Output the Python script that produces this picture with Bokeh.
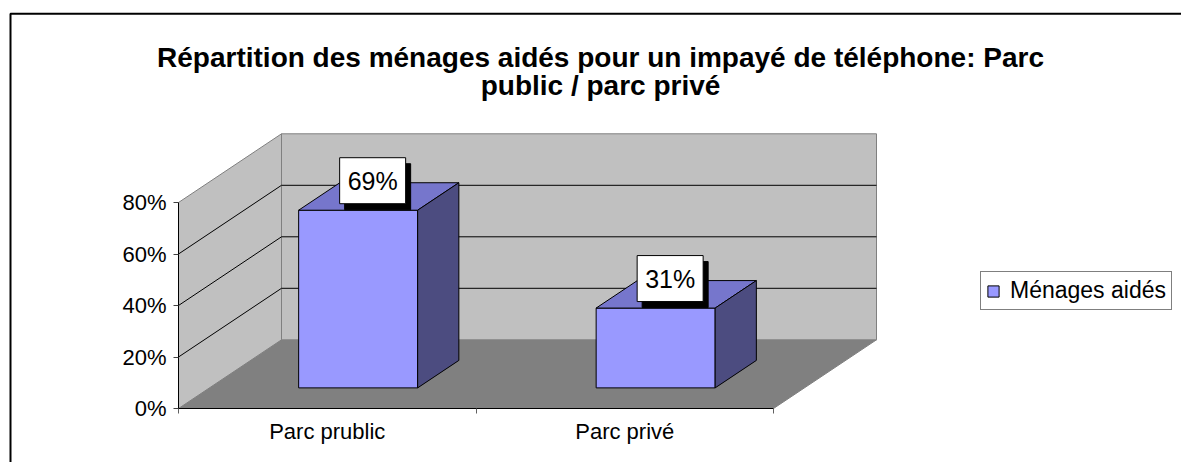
from bokeh.plotting import figure
from bokeh.models import (Range1d, LinearAxis, FixedTicker, PrintfTickFormatter,
                          Legend, LegendItem)
from bokeh.core.properties import value
from bokeh.embed import file_html
from bokeh.resources import INLINE

# ---------------- data ----------------
title_lines = ["Répartition des ménages aidés pour un impayé de téléphone: Parc",
               "public / parc privé"]
categories = ["Parc prublic", "Parc privé"]
values = [69, 31]
value_labels = ["69%", "31%"]
y_ticks = [0, 20, 40, 60, 80]
series_name = "Ménages aidés"

# ---------------- layout constants (pixels) ----------------
W, H = 1181, 462
OX, OY = 178, 408            # canvas position of (x=0, y=0%)
PX_PER_CAT = 297.5
PX_PER_PCT = 2.575
DEPTH_PX = (103.0, 68.7)
FONT = "Liberation Sans"

DX = DEPTH_PX[0] / PX_PER_CAT
DY = DEPTH_PX[1] / PX_PER_PCT
N = len(categories)
YMAX = y_ticks[-1]


def cx(px):
    return (px - OX) / PX_PER_CAT


def cy(py):
    return (OY - py) / PX_PER_PCT


p = figure(width=W, height=H, output_backend="svg", toolbar_location=None,
           x_axis_location=None, y_axis_location=None,
           x_range=Range1d(cx(0), cx(W)), y_range=Range1d(cy(H), cy(0)),
           min_border=0, outline_line_color=None,
           background_fill_color="white", border_fill_color="white")
p.grid.visible = False

# outer chart-area border (only left and top edges fall inside the window)
p.quad(left=[cx(10)], right=[cx(W + 100)], top=[cy(13.2)], bottom=[cy(H + 100)],
       fill_color=None, line_color="black", line_width=2)

# ---------------- 3D walls and floor ----------------
p.patch([0, N, N + DX, DX], [0, 0, DY, DY], fill_color="#808080",
        line_color="#808080", line_width=1)
p.patch([0, 0, DX, DX], [0, YMAX, YMAX + DY, DY], fill_color="#C0C0C0",
        line_color="#808080", line_width=1)
p.patch([DX, N + DX, N + DX, DX], [DY, DY, DY + YMAX, DY + YMAX],
        fill_color="#C0C0C0", line_color="#808080", line_width=1)

grid_xs, grid_ys = [], []
for v in y_ticks[1:-1]:
    grid_xs.append([0, DX, N + DX])
    grid_ys.append([v, v + DY, v + DY])
p.multi_line(grid_xs, grid_ys, line_color="black", line_width=1)

# ---------------- 3D bars ----------------
Z0, Z1, HALF = 0.3, 0.7, 0.2
fx, fy, tx, ty, sx, sy = [], [], [], [], [], []
lab_x, lab_y = [], []
for i, v in enumerate(values):
    c = i + 0.5
    l0, r0 = c - HALF + Z0 * DX, c + HALF + Z0 * DX
    l1, r1 = c - HALF + Z1 * DX, c + HALF + Z1 * DX
    b0, b1 = Z0 * DY, Z1 * DY
    fx.append([l0, r0, r0, l0]); fy.append([b0, b0, b0 + v, b0 + v])
    tx.append([l0, r0, r1, l1]); ty.append([b0 + v, b0 + v, b1 + v, b1 + v])
    sx.append([r0, r1, r1, r0]); sy.append([b0, b1, b1 + v, b0 + v])
    lab_x.append(c + Z0 * DX + 14.5 / PX_PER_CAT)
    lab_y.append(b0 + v + 29.5 / PX_PER_PCT)

front = p.patches(fx, fy, fill_color="#9999FF", line_color="black", line_width=1)
p.patches(tx, ty, fill_color="#7676CC", line_color="black", line_width=1)
p.patches(sx, sy, fill_color="#4C4C80", line_color="black", line_width=1)

# data labels with shadow
p.rect([x + 5 / PX_PER_CAT for x in lab_x], [y - 6 / PX_PER_PCT for y in lab_y],
       width=66, height=46, width_units="screen", height_units="screen",
       fill_color="black", line_color="black")
p.rect(lab_x, lab_y, width=66, height=46, width_units="screen",
       height_units="screen", fill_color="white", line_color="black", line_width=1)
p.text(lab_x, lab_y, text=value_labels, text_align="center", text_baseline="middle",
       text_font=value(FONT), text_font_size="25px", text_color="black")

# ---------------- axes ----------------
yaxis = LinearAxis(fixed_location=0, bounds=(0, YMAX),
                   ticker=FixedTicker(ticks=y_ticks),
                   formatter=PrintfTickFormatter(format="%d%%"),
                   axis_line_color="black", axis_line_width=1,
                   major_tick_line_color="#404040", major_tick_out=5, major_tick_in=0,
                   minor_tick_out=0, minor_tick_in=0,
                   major_label_standoff=7, major_label_text_font=FONT,
                   major_label_text_font_size="22px", major_label_text_color="black")
p.add_layout(yaxis, "left")

cat_pos = [i + 0.5 for i in range(N)]
xaxis = LinearAxis(fixed_location=0, bounds=(0, N),
                   ticker=FixedTicker(ticks=cat_pos, minor_ticks=list(range(N + 1))),
                   major_label_overrides={pos: name for pos, name in zip(cat_pos, categories)},
                   axis_line_color="black", axis_line_width=1,
                   major_tick_out=0, major_tick_in=0,
                   minor_tick_out=5, minor_tick_in=0, minor_tick_line_color="#606060",
                   major_label_standoff=5, major_label_text_font=FONT,
                   major_label_text_font_size="22px", major_label_text_color="black")
p.add_layout(xaxis, "below")

# ---------------- title ----------------
p.text([cx(600), cx(600)], [cy(56.7), cy(85)], text=title_lines,
       text_align="center", text_baseline="alphabetic",
       text_font=value(FONT), text_font_style="bold", text_font_size="28px",
       text_color="black")

# ---------------- legend ----------------
legend = Legend(items=[LegendItem(label=series_name, renderers=[front])],
                location=(980, H - 310), orientation="vertical",
                border_line_color="black", border_line_width=1,
                background_fill_color="white", background_fill_alpha=1,
                glyph_width=14, glyph_height=14, label_standoff=10,
                padding=5, margin=0, spacing=0,
                label_text_font=FONT, label_text_font_size="23px",
                label_text_color="black")
p.add_layout(legend)

open("out.html", "w").write(file_html(p, INLINE))
